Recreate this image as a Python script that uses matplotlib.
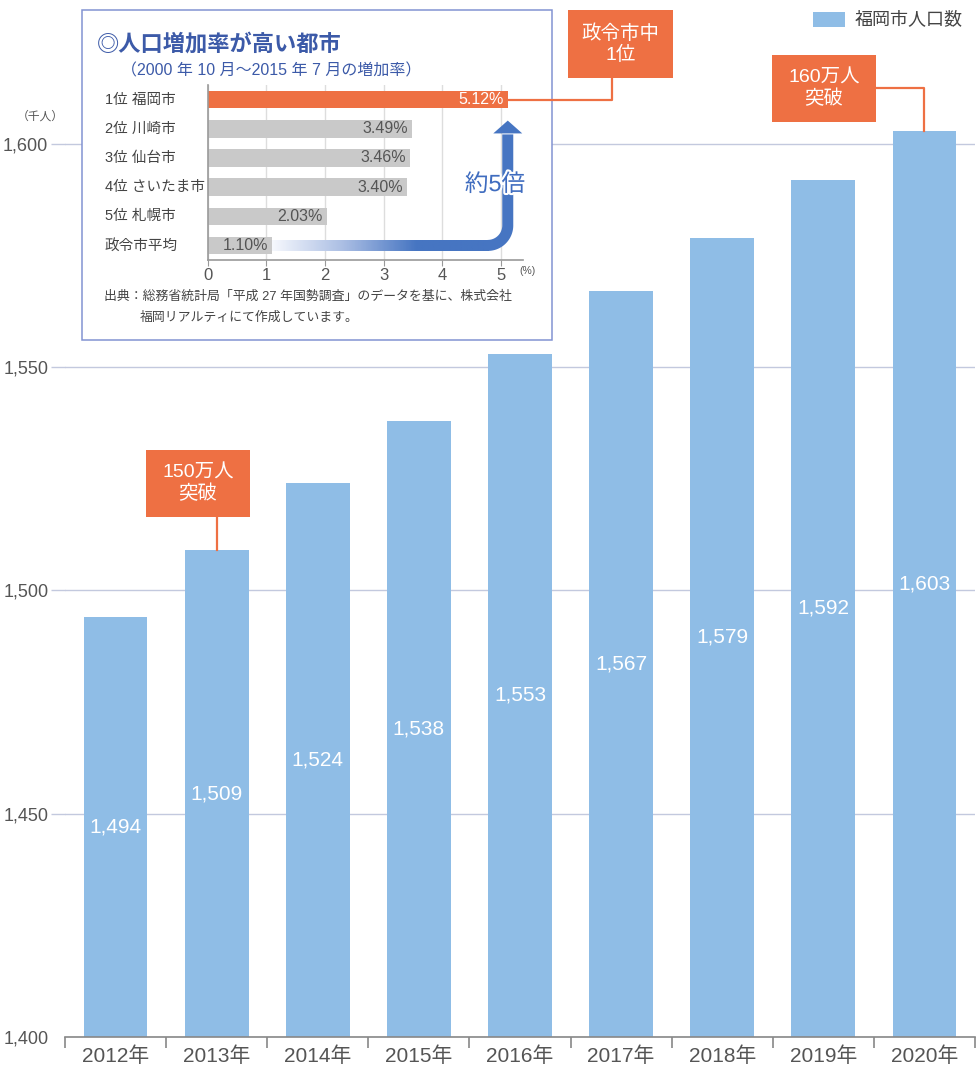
import numpy as np
import matplotlib
matplotlib.use("Agg")
import matplotlib.pyplot as plt
import matplotlib.transforms as mtransforms
import matplotlib.patheffects as pe
from matplotlib.patches import Rectangle, Polygon
from matplotlib.colors import LinearSegmentedColormap

plt.rcParams["font.family"] = ["Liberation Sans", "Noto Sans CJK JP", "DejaVu Sans"]

# ---------------------------------------------------------------- data
years = ["2012年", "2013年", "2014年", "2015年", "2016年",
         "2017年", "2018年", "2019年", "2020年"]
population = [1494, 1509, 1524, 1538, 1553, 1567, 1579, 1592, 1603]
y_ticks = [1400, 1450, 1500, 1550, 1600]

cities = ["1位 福岡市", "2位 川崎市", "3位 仙台市", "4位 さいたま市", "5位 札幌市", "政令市平均"]
rates = [5.12, 3.49, 3.46, 3.40, 2.03, 1.10]

# ---------------------------------------------------------------- style
W, H = 976, 1069
BAR_BLUE = "#8fbde6"
ORANGE = "#ee7043"
GRID = "#c3c9de"
GRAY_BAR = "#c9c9c9"
TXT = "#555555"
NAVY = "#3c5aa8"
ARROW_BLUE = "#4675c2"


def fr(x0, y0, x1, y1):
    """pixel box (top-left origin) -> figure fraction rect"""
    return [x0 / W, 1 - y1 / H, (x1 - x0) / W, (y1 - y0) / H]


fig = plt.figure(figsize=(W / 100, H / 100), dpi=100)

# ---------------------------------------------------------------- main chart
ax = fig.add_axes(fr(65, 0, 975, 1037))
x = np.arange(len(years))
ax.bar(x, population, width=0.63, color=BAR_BLUE, zorder=2)
for xi, v in zip(x, population):
    ax.text(xi, (y_ticks[0] + v) / 2, f"{v:,}", ha="center", va="center",
            color="white", fontsize=15, zorder=3)

ax.set_xlim(-0.5, len(years) - 0.5)
ax.set_ylim(1400, 1400 + 1037 / (893 / 200))
ax.set_yticks(y_ticks)
ax.set_yticklabels([f"{t:,}" for t in y_ticks])
ax.set_xticks(x)
ax.set_xticklabels(years)
ax.set_xticks(np.arange(len(years) + 1) - 0.5, minor=True)
ax.tick_params(axis="x", which="major", length=0, pad=7, labelsize=15, labelcolor=TXT)
ax.tick_params(axis="x", which="minor", length=8, width=1.2, color="#888888")
ax.tick_params(axis="y", length=10, width=1, color=GRID, pad=2, labelsize=13, labelcolor=TXT)
ax.yaxis.get_major_ticks()[0].tick1line.set_visible(False)
ax.grid(axis="y", color=GRID, lw=1)
ax.set_axisbelow(True)
for s in ["top", "right", "left"]:
    ax.spines[s].set_visible(False)
ax.spines["bottom"].set_color("#888888")
ax.spines["bottom"].set_linewidth(1.2)

# white panel behind the inset
panel = Rectangle((82 / W, 1 - 340 / H), 470 / W, 330 / H, transform=fig.transFigure,
                  facecolor="white", edgecolor="#8393d2", lw=1.1, zorder=0.5)
fig.add_artist(panel)

# ---------------------------------------------------------------- inset chart
ax2 = fig.add_axes(fr(207.7, 85, 523, 260))
ax2.set_zorder(1)
ax2.patch.set_alpha(0)
rows = np.arange(len(cities))
ax2.barh(rows, rates, height=0.6, color=[ORANGE] + [GRAY_BAR] * (len(rates) - 1), zorder=2)
for r, v in zip(rows, rates):
    ax2.annotate(f"{v:.2f}%", (v, r), xytext=(-3, 0), textcoords="offset points",
                 ha="right", va="center", fontsize=11.5,
                 color="white" if r == 0 else TXT, zorder=3)
ax2.set_xlim(0, 5.38)
ax2.set_ylim(len(cities) - 0.5, -0.5)
ax2.set_xticks(range(6))
ax2.set_yticks([])
ax2.tick_params(axis="x", length=4, color="#999999", labelsize=12, labelcolor=TXT, pad=2)
ax2.grid(axis="x", color="#dddddd", lw=1)
ax2.set_axisbelow(True)
for s in ["top", "right"]:
    ax2.spines[s].set_visible(False)
for s in ["left", "bottom"]:
    ax2.spines[s].set_color("#999999")
    ax2.spines[s].set_linewidth(1.2)
lab_tr = mtransforms.blended_transform_factory(ax2.transAxes, ax2.transData)
for r, c in zip(rows, cities):
    ax2.text(-0.326, r, c, transform=lab_tr, ha="left", va="center", fontsize=10.5, color="#444444")

# ---------------------------------------------------------------- overlay (pixel coords)
ov = fig.add_axes([0, 0, 1, 1])
ov.set_zorder(3)
ov.set_xlim(0, W)
ov.set_ylim(H, 0)
ov.axis("off")
ov.patch.set_alpha(0)


def to_px(src, xy):
    return ov.transData.inverted().transform(src.transData.transform(xy))


ov.text(40, 117, "（千人）", ha="center", va="center", fontsize=8.5, color=TXT)

# legend
ov.add_patch(Rectangle((813, 12), 32, 15, color=BAR_BLUE, lw=0))
ov.text(855, 20, "福岡市人口数", ha="left", va="center", fontsize=13, color="#444444")

# inset titles / source
ov.text(97, 45, "◎人口増加率が高い都市", ha="left", va="center", fontsize=16,
        color=NAVY, fontweight="bold")
ov.text(121, 71, "（2000 年 10 月～2015 年 7 月の増加率）", ha="left", va="center",
        fontsize=11.5, color=NAVY)
ov.text(104, 297, "出典：総務省統計局「平成 27 年国勢調査」のデータを基に、株式会社",
        ha="left", va="center", fontsize=9.3, color="#444444")
ov.text(140, 318, "福岡リアルティにて作成しています。",
        ha="left", va="center", fontsize=9.3, color="#444444")
ov.text(519, 271, "(%)", ha="left", va="center", fontsize=7.5, color=TXT)

# gradient arrow: from the average bar up to Fukuoka's bar
xs, yh = to_px(ax2, (rates[-1], rows[-1]))
xc = to_px(ax2, (rates[0], rows[-1]))[0]
y_base = to_px(ax2, (0, 1.16))[1]
y_tip = to_px(ax2, (0, 0.72))[1]
rad = 20
shaft = 11
grad = LinearSegmentedColormap.from_list("g", ["#f6f8fd", "#a9bde3", ARROW_BLUE, ARROW_BLUE])
ov.imshow(np.linspace(0, 1, 256)[None, :], cmap=grad, aspect="auto", interpolation="bilinear",
          extent=(xs, xc - rad + 0.5, yh + shaft / 2, yh - shaft / 2), zorder=2)
th = np.linspace(np.pi / 2, 0, 60)
arc_x = xc - rad + rad * np.cos(th)
arc_y = yh - rad + rad * np.sin(th)
ov.plot(np.r_[arc_x, xc], np.r_[arc_y, y_base + 1], color=ARROW_BLUE,
        lw=shaft * 72 / 100, solid_capstyle="butt", zorder=2)
ov.add_patch(Polygon([(xc - 14.5, y_base), (xc + 14.5, y_base), (xc, y_tip)],
                     closed=True, color=ARROW_BLUE, lw=0, zorder=2))
ov.set_xlim(0, W)
ov.set_ylim(H, 0)
ov.text(495, 185, "約5倍", ha="center", va="center", fontsize=17, color="#3f6cbf",
        path_effects=[pe.withStroke(linewidth=3, foreground="white")], zorder=4)


# callouts
def callout(x0, y0, x1, y1, text):
    ov.add_patch(Rectangle((x0, y0), x1 - x0, y1 - y0, color=ORANGE, lw=0))
    ov.text((x0 + x1) / 2, (y0 + y1) / 2, text, ha="center", va="center",
            color="white", fontsize=14, linespacing=1.2)


lw_c = 1.6
callout(146, 450, 250, 517, "150万人\n突破")
bx, by = to_px(ax, (1, population[1]))
ov.plot([bx, bx], [by, 517], color=ORANGE, lw=lw_c)

callout(772, 55, 876, 122, "160万人\n突破")
bx, by = to_px(ax, (8, population[8]))
ov.plot([876, bx, bx], [88, 88, by], color=ORANGE, lw=lw_c)

callout(568, 10, 673, 78, "政令市中\n1位")
bx, by = to_px(ax2, (rates[0], rows[0]))
ov.plot([bx, 612, 612], [by, by, 78], color=ORANGE, lw=lw_c)

fig.savefig("out.png", dpi=100)
